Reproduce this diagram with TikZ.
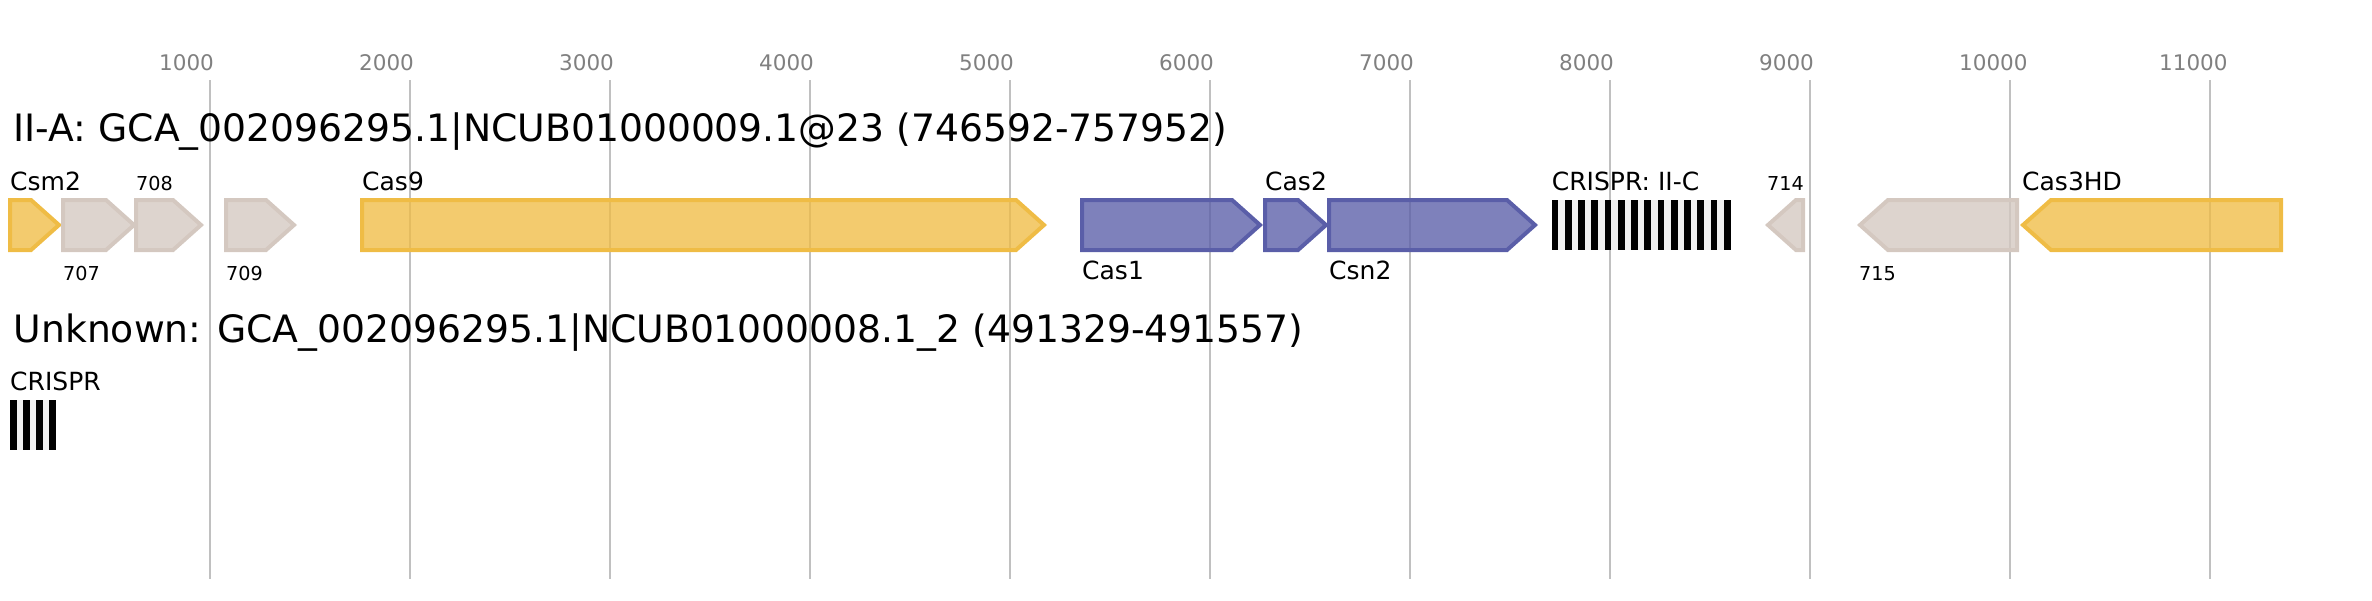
\documentclass[tikz,border=0pt]{standalone}
\usepackage{fontspec}
\setmainfont{DejaVu Sans}
\definecolor{gridc}{RGB}{192,192,192}
\definecolor{tickc}{RGB}{128,128,128}
\definecolor{yel}{HTML}{EFBC45}
\definecolor{gry}{HTML}{D4C8C0}
\definecolor{blu}{HTML}{5A5EA8}
\definecolor{gapc}{HTML}{F0F0F0}
\newcommand{\hl}{28}
\newcommand{\fwdgene}[3]{\draw[gene=#3] (#1,200) -- ({#2-\hl},200) -- (#2,225) -- ({#2-\hl},250) -- (#1,250) -- cycle;}
\newcommand{\revgene}[3]{\draw[gene=#3] (#1,225) -- ({#1+\hl},200) -- (#2,200) -- (#2,250) -- ({#1+\hl},250) -- cycle;}
\tikzset{
  gene/.style={draw=#1, fill=#1, fill opacity=0.78, line width=4pt, line join=miter},
  gridline/.style={draw=gridc, line width=2pt},
  ticklabel/.style={anchor=base west, inner sep=0pt, text=tickc, font=\fontsize{21.5}{24}\selectfont},
  titlelabel/.style={anchor=base west, inner sep=0pt, font=\fontsize{37.7}{40}\selectfont},
  genelabel/.style={anchor=base west, inner sep=0pt, font=\fontsize{25}{28}\selectfont},
  numlabel/.style={anchor=base west, inner sep=0pt, font=\fontsize{19.2}{22}\selectfont},
  gapbox/.style={fill=gapc, draw=none},
  spacerbar/.style={fill=black, draw=none}
}
\begin{document}
\begin{tikzpicture}[x=1pt, y=-1pt]
\useasboundingbox (0,0) rectangle (2372,600);
% grid and ticks
\foreach \k in {1,...,11} {
  \pgfmathsetmacro{\gx}{10+200*\k}
  \pgfmathtruncatemacro{\bp}{1000*\k}
  \draw[gridline] (\gx,80) -- (\gx,579);
  \node[ticklabel] (tick\k) at ({\gx-51},70.5) {\bp};
}
% titles
\node[titlelabel] (title1) at (13.5,141) {II-A: GCA\_002096295.1|NCUB01000009.1@23 (746592-757952)};
\node[titlelabel] (title2) at (13.5,342) {Unknown: GCA\_002096295.1|NCUB01000008.1\_2 (491329-491557)};
% genes track 1
\fwdgene{10}{59}{yel}
\fwdgene{63}{134}{gry}
\fwdgene{136}{201}{gry}
\fwdgene{226}{294}{gry}
\fwdgene{362}{1044}{yel}
\fwdgene{1082}{1260}{blu}
\fwdgene{1265}{1326}{blu}
\fwdgene{1329}{1535}{blu}
\revgene{1768}{1803}{gry}
\revgene{1860}{2017}{gry}
\revgene{2023}{2281}{yel}
% CRISPR array track 1
\fill[gapbox] (1551.7,200) rectangle (1730.5,250);
\foreach \i in {0,...,13} {
  \fill[spacerbar] ({1551.7+13.25*\i},200) rectangle ({1551.7+13.25*\i+6.6},250);
}
% CRISPR array track 2
\fill[gapbox] (10,400) rectangle (55.5,450);
\foreach \i in {0,...,3} {
  \fill[spacerbar] ({10+13*\i},400) rectangle ({10+13*\i+6.5},450);
}
% labels
\node[genelabel] (lcsm2) at (10,190) {Csm2};
\node[numlabel] (l707) at (63,280) {707};
\node[numlabel] (l708) at (136,190.5) {708};
\node[numlabel] (l709) at (226,280) {709};
\node[genelabel] (lcas9) at (362,190) {Cas9};
\node[genelabel] (lcas1) at (1082,279) {Cas1};
\node[genelabel] (lcas2) at (1265,190) {Cas2};
\node[genelabel] (lcsn2) at (1329,279) {Csn2};
\node[genelabel] (lcr1) at (1551.7,190) {CRISPR: II-C};
\node[numlabel] (l714) at (1767,190.5) {714};
\node[numlabel] (l715) at (1859,280) {715};
\node[genelabel] (lcas3) at (2022,190) {Cas3HD};
\node[genelabel] (lcr2) at (10,390) {CRISPR};
\end{tikzpicture}
\end{document}
